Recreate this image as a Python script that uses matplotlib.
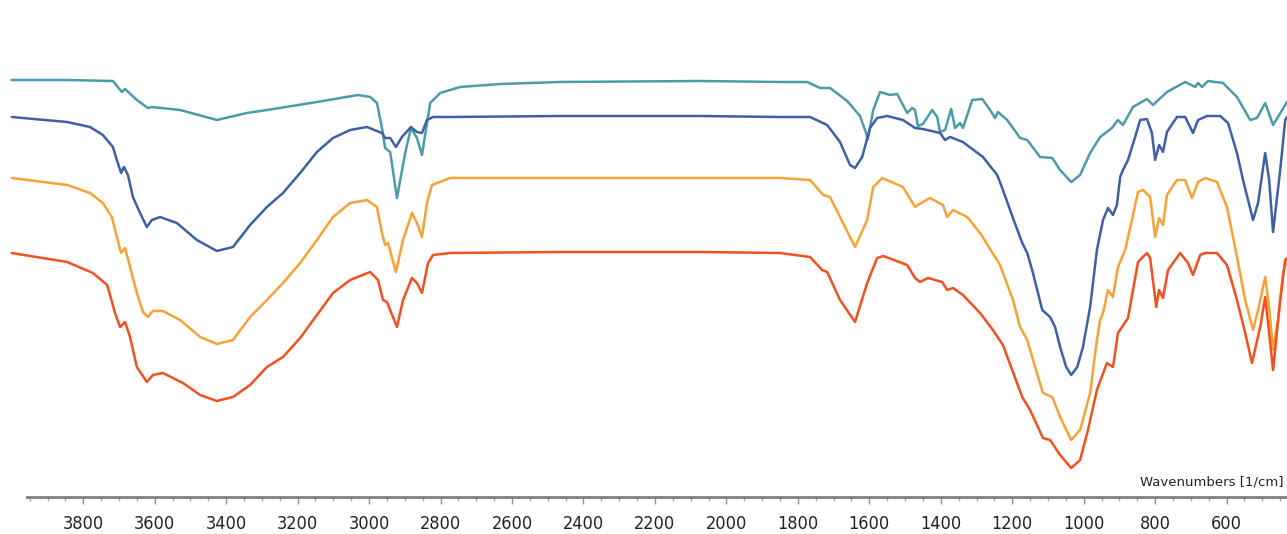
import matplotlib
matplotlib.use("Agg")
import matplotlib.pyplot as plt
from matplotlib.ticker import FixedLocator

# ---- data: (wavenumber [1/cm], offset signal [a.u.]) ----
teal_wn = [4000, 3845, 3717, 3692, 3683, 3650, 3619, 3608, 3529, 3426, 3342, 3286, 3146, 3031,
           2997, 2978, 2964, 2955, 2941, 2922, 2899, 2883, 2866, 2852, 2841, 2829, 2801, 2773,
           2745, 2633, 2466, 2074, 1850, 1774, 1738, 1710, 1662, 1626, 1612, 1604, 1589, 1570,
           1542, 1522, 1494, 1480, 1472, 1464, 1450, 1424, 1410, 1402, 1388, 1371, 1360, 1346,
           1338, 1312, 1284, 1262, 1248, 1240, 1214, 1178, 1158, 1122, 1088, 1066, 1035, 1010,
           982, 954, 921, 904, 890, 862, 823, 806, 767, 716, 688, 680, 669, 652, 610, 571, 534,
           515, 492, 470, 431, 410]
teal_val = [417, 417, 416, 405, 408, 397, 389, 390, 387, 377, 384, 387, 395, 402,
            400, 394, 369, 349, 345, 299, 344, 369, 359, 342, 367, 394, 404, 407,
            410, 413, 415, 416, 415, 415, 409, 409, 396, 381, 367, 358, 387, 405,
            402, 403, 384, 389, 387, 371, 373, 387, 380, 365, 367, 388, 369, 374,
            369, 397, 398, 387, 379, 385, 377, 359, 357, 340, 339, 327, 315, 322,
            344, 360, 369, 377, 372, 390, 398, 392, 405, 415, 410, 414, 410, 416, 414, 400, 377,
            379, 394, 372, 395, 402]

blue_wn = [4000, 3845, 3781, 3745, 3717, 3706, 3694, 3686, 3675, 3661, 3641, 3622, 3608, 3585,
           3538, 3482, 3426, 3381, 3333, 3286, 3241, 3193, 3146, 3101, 3053, 3006, 2964, 2955,
           2941, 2925, 2908, 2883, 2866, 2852, 2838, 2821, 2773, 2466, 2074, 1850, 1766, 1718,
           1682, 1654, 1640, 1620, 1598, 1578, 1550, 1506, 1472, 1450, 1402, 1388, 1374, 1338,
           1282, 1242, 1226, 1198, 1172, 1158, 1142, 1116, 1094, 1080, 1066, 1049, 1035, 1018,
           1002, 982, 963, 946, 932, 918, 907, 898, 890, 876, 856, 842, 823, 809, 800, 789, 778,
           767, 739, 716, 694, 680, 655, 618, 596, 571, 554, 526, 512, 492, 481, 470, 450, 436, 420]
blue_val = [380, 375, 370, 362, 350, 337, 324, 330, 322, 300, 284, 270, 277, 280,
            274, 257, 246, 250, 272, 290, 304, 324, 345, 359, 367, 370, 364, 359,
            359, 350, 360, 370, 365, 364, 377, 380, 380, 381, 381, 380, 380, 372,
            355, 332, 329, 340, 369, 379, 381, 377, 369, 368, 364, 357, 360, 355,
            340, 322, 307, 279, 254, 244, 224, 187, 180, 170, 150, 130, 122, 130,
            150, 190, 247, 277, 289, 282, 292, 320, 327, 337, 360, 377, 378, 364, 337, 352, 345,
            365, 380, 380, 364, 377, 381, 381, 374, 344, 317, 277, 294, 344, 317, 265, 327, 377, 385]

orange_wn = [4000, 3845, 3781, 3745, 3720, 3706, 3694, 3683, 3669, 3650, 3633, 3619, 3605, 3577,
             3529, 3473, 3426, 3381, 3333, 3286, 3241, 3193, 3146, 3101, 3053, 3006, 2978, 2964,
             2955, 2947, 2925, 2905, 2880, 2866, 2852, 2838, 2824, 2773, 2466, 2074, 1850, 1766,
             1729, 1710, 1682, 1640, 1606, 1589, 1564, 1506, 1472, 1464, 1430, 1394, 1382, 1366,
             1326, 1290, 1234, 1226, 1198, 1178, 1158, 1136, 1114, 1088, 1066, 1035, 1010, 982,
             963, 954, 946, 932, 918, 904, 884, 865, 848, 834, 814, 800, 789, 778, 767, 739, 716,
             697, 680, 660, 627, 599, 571, 548, 526, 512, 492, 481, 470, 456, 442, 431, 415]
orange_val = [319, 312, 304, 294, 280, 260, 244, 249, 230, 204, 185, 180, 186, 186,
              177, 160, 153, 157, 180, 197, 214, 234, 257, 280, 294, 297, 290, 264,
              252, 254, 225, 257, 284, 274, 260, 294, 312, 319, 319, 319, 319, 317,
              302, 300, 280, 250, 277, 310, 319, 310, 290, 292, 299, 292, 280, 287,
              280, 264, 232, 224, 197, 170, 157, 130, 104, 100, 80, 57, 67, 104,
              157, 177, 184, 207, 200, 230, 247, 277, 305, 307, 300, 260, 279, 272, 302, 317, 317,
              299, 315, 319, 315, 290, 240, 197, 167, 187, 220, 190, 147, 177, 224, 237, 242]

red_wn = [4000, 3845, 3773, 3733, 3711, 3697, 3683, 3669, 3650, 3622, 3605, 3577, 3521, 3473,
          3426, 3381, 3333, 3286, 3241, 3193, 3146, 3101, 3053, 2997, 2975, 2961, 2950, 2922,
          2905, 2880, 2866, 2852, 2835, 2821, 2773, 2466, 2074, 1850, 1766, 1732, 1718, 1682,
          1640, 1606, 1578, 1561, 1494, 1472, 1458, 1436, 1396, 1382, 1366, 1338, 1290, 1254,
          1226, 1198, 1172, 1150, 1114, 1094, 1066, 1035, 1010, 988, 963, 935, 918, 904, 876,
          848, 823, 814, 797, 789, 778, 764, 730, 708, 694, 674, 660, 627, 599, 571, 548, 529,
          506, 492, 481, 470, 450, 436, 420]
red_val = [244, 235, 224, 212, 184, 170, 175, 160, 130, 115, 122, 124, 114, 102,
           96, 100, 112, 130, 140, 159, 182, 204, 217, 225, 217, 197, 195, 170,
           197, 219, 214, 204, 234, 242, 244, 245, 245, 244, 240, 227, 225, 197,
           175, 214, 239, 241, 232, 219, 215, 219, 215, 207, 209, 202, 184, 167,
           152, 125, 100, 87, 59, 57, 42, 29, 37, 67, 107, 134, 130, 164, 179,
           235, 244, 239, 190, 207, 199, 227, 244, 234, 222, 242, 244, 244, 232, 197, 164, 134,
           170, 200, 164, 127, 197, 237, 242]

series = [
    (teal_wn, teal_val, "#4B9CA7"),
    (blue_wn, blue_val, "#3F5FA6"),
    (orange_wn, orange_val, "#F7A237"),
    (red_wn, red_val, "#F2501F"),
]

major_ticks = list(range(600, 3801, 200))
minor_ticks = [t for t in range(450, 3951, 50) if t % 200 != 0]
x_label = "Wavenumbers [1/cm]"

# ---- figure ----
W, H = 1287, 534
fig = plt.figure(figsize=(W / 100, H / 100), dpi=100)
ax = fig.add_axes([0, 37 / H, 1, 497 / H])

for wn, val, col in series:
    ax.plot(wn, val, color=col, lw=1.8, solid_joinstyle="round", solid_capstyle="round")

ax.set_xlim(4033, 431)
ax.set_ylim(0, 497)

for s in ("top", "left", "right"):
    ax.spines[s].set_visible(False)
ax.spines["bottom"].set_color("#808080")
ax.spines["bottom"].set_linewidth(2.0)
ax.spines["bottom"].set_bounds(3957, 431)
ax.set_yticks([])

ax.xaxis.set_major_locator(FixedLocator(major_ticks))
ax.xaxis.set_minor_locator(FixedLocator(minor_ticks))
ax.set_xticklabels([str(t) for t in major_ticks])
ax.tick_params(axis="x", which="major", length=5, width=1, color="#909090",
               labelsize=13, labelcolor="#222222", pad=8)
ax.tick_params(axis="x", which="minor", length=3, width=1, color="#a0a0a0")
for lab in ax.get_xticklabels():
    lab.set_fontfamily(["Liberation Sans Narrow", "DejaVu Sans"])
    lab.set_fontstretch("condensed")

ax.text(1284 / W, (534 - 482) / H, x_label, transform=fig.transFigure,
        ha="right", va="center", fontsize=9.5, color="#222222", family="DejaVu Sans")

fig.savefig("out.png", dpi=100)
